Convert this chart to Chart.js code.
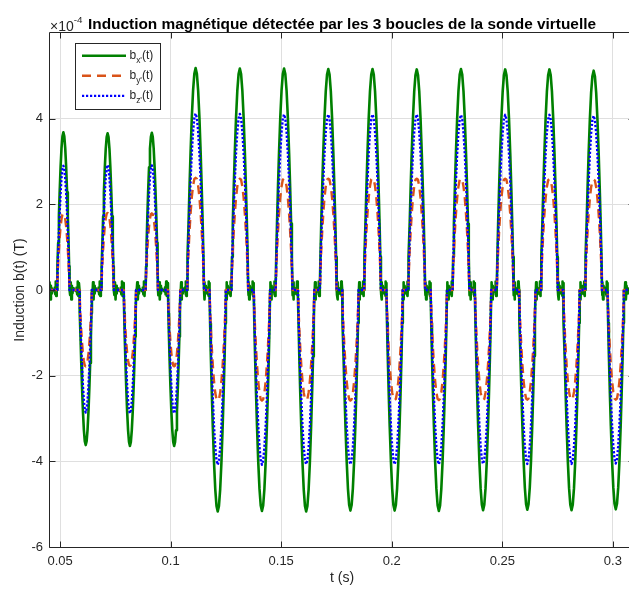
<!DOCTYPE html>
<html>
<head>
<meta charset="utf-8">
<title>Induction magnétique</title>
<script src="https://cdn.jsdelivr.net/npm/chart.js@4.4.1/dist/chart.umd.min.js"></script>
<style>
  html, body { margin: 0; padding: 0; background: #fff; overflow: hidden; }
  #wrap { position: relative; width: 640px; height: 590px; }
</style>
</head>
<body>
<div id="wrap"><canvas id="chart"></canvas></div>
<script>
// valeurs en unités de 1e-4 T
const tRange = [0.045, 0.31];
const yRange = [-6, 6];
const xTicks = [0.05, 0.1, 0.15, 0.2, 0.25, 0.3];
const yTicks = [-6, -4, -2, 0, 2, 4];
const seriesLabels = ["b_{x'}(t)", "b_{y'}(t)", "b_{z'}(t)"];

// centres des alternances (s) et demi-largeurs (s)
const posCenters = [0.0515, 0.0715, 0.0915, 0.1113, 0.1313, 0.1513, 0.1713, 0.1913, 0.2113, 0.2313, 0.2513, 0.2713, 0.2913];
const negCenters = [0.0616, 0.0816, 0.1016, 0.1213, 0.1413, 0.1613, 0.1813, 0.2013, 0.2213, 0.2413, 0.2613, 0.2813, 0.3013];
const posHalfWidth = [0.0028, 0.0028, 0.0028, 0.0038, 0.0038, 0.0038, 0.0038, 0.0038, 0.0038, 0.0038, 0.0038, 0.0038, 0.0038];
const negHalfWidth = [0.0028, 0.0028, 0.0028, 0.0037, 0.0037, 0.0037, 0.0037, 0.0037, 0.0037, 0.0037, 0.0037, 0.0037, 0.0037];

// crêtes
const bxPos = [3.68, 3.66, 3.67, 5.18, 5.17, 5.17, 5.16, 5.16, 5.15, 5.16, 5.15, 5.15, 5.12];
const bxNeg = [-3.62, -3.64, -3.64, -5.17, -5.16, -5.17, -5.15, -5.15, -5.16, -5.14, -5.13, -5.14, -5.12];
const byPos = [1.78, 1.8, 1.79, 2.62, 2.6, 2.6, 2.6, 2.61, 2.6, 2.6, 2.6, 2.59, 2.58];
const byNeg = [-1.78, -1.77, -1.78, -2.58, -2.58, -2.57, -2.58, -2.57, -2.57, -2.57, -2.56, -2.56, -2.56];
const bzPos = [2.9, 2.92, 2.91, 4.12, 4.11, 4.1, 4.1, 4.1, 4.1, 4.09, 4.09, 4.09, 4.07];
const bzNeg = [-2.86, -2.88, -2.88, -4.08, -4.08, -4.07, -4.07, -4.07, -4.07, -4.06, -4.06, -4.06, -4.05];

// forme d'une alternance (position relative, fraction de la crête)
const lobeU = [-1, -0.93, -0.84, -0.72, -0.6, -0.45, -0.3, -0.15, 0, 0.15, 0.3, 0.45, 0.6, 0.72, 0.84, 0.93, 1];
const shapeBx = [0, 0.15, 0.3, 0.47, 0.62, 0.78, 0.9, 0.975, 1, 0.975, 0.9, 0.78, 0.62, 0.47, 0.3, 0.15, 0];
const shapeBy = [0, 0.18, 0.35, 0.53, 0.68, 0.83, 0.93, 0.99, 1, 0.99, 0.93, 0.83, 0.68, 0.53, 0.35, 0.18, 0];
const shapeBz = [0, 0.15, 0.3, 0.47, 0.62, 0.78, 0.9, 0.975, 1, 0.975, 0.9, 0.78, 0.62, 0.47, 0.3, 0.15, 0];
// bruit de b_x entre deux alternances
const bxGapNoise = [0, -0.12, 0.18, -0.22, 0.1, -0.08, 0.04, 0, 0, 0, 0, -0.03, 0.06, -0.1, 0.2, -0.14, 0.16, 0];

const axisColor = 'rgb(38,38,38)';
const gridColor = '#dfdfdf';
const fontFamily = "'Liberation Sans', Arial, Helvetica, sans-serif";

function buildSeries(posPeaks, negPeaks, shape, gapNoise) {
    const lobes = [];
    posCenters.forEach(function(c, i) { lobes.push({ c: c, hw: posHalfWidth[i], peak: posPeaks[i] }); });
    negCenters.forEach(function(c, i) { lobes.push({ c: c, hw: negHalfWidth[i], peak: negPeaks[i] }); });
    lobes.sort(function(a, b) { return a.c - b.c; });

    const pts = [{ x: tRange[0], y: 0 }];
    let from = tRange[0];
    function gap(to) {
        if (!gapNoise) return;
        gapNoise.forEach(function(v, k) {
            pts.push({ x: from + (to - from) * k / (gapNoise.length - 1), y: v });
        });
    }
    lobes.forEach(function(l) {
        gap(l.c - l.hw);
        lobeU.forEach(function(u, k) { pts.push({ x: l.c + u * l.hw, y: l.peak * shape[k] }); });
        from = l.c + l.hw;
    });
    gap(tRange[1]);
    pts.push({ x: tRange[1], y: 0 });
    return pts;
}

// texte avec indices / exposants façon TeX
function drawTex(ctx, str, x, y, size, color) {
    const parts = [];
    const re = /([_^])\{([^}]*)\}/g;
    let last = 0, m;
    while ((m = re.exec(str))) {
        if (m.index > last) parts.push({ t: str.slice(last, m.index), s: size, dy: 0 });
        parts.push({ t: m[2], s: size * 0.7, dy: m[1] === '_' ? size * 0.3 : -size * 0.55 });
        last = re.lastIndex;
    }
    if (last < str.length) parts.push({ t: str.slice(last), s: size, dy: 0 });
    ctx.fillStyle = color;
    ctx.textAlign = 'left';
    ctx.textBaseline = 'alphabetic';
    let cx = x;
    parts.forEach(function(p) {
        ctx.font = p.s + 'px ' + fontFamily;
        ctx.fillText(p.t, cx, y + p.dy);
        cx += ctx.measureText(p.t).width;
    });
}

const matlabFrame = {
    id: 'matlabFrame',
    afterDatasetsDraw(chart) {
        const { ctx, chartArea: a, scales: { x, y } } = chart;
        const L = Math.floor(a.left) + 0.5, R = Math.floor(a.right) - 0.5;
        const T = Math.floor(a.top) - 0.5, B = Math.floor(a.bottom) + 0.5;
        const tick = 6;
        ctx.save();
        ctx.strokeStyle = axisColor;
        ctx.lineWidth = 1;
        ctx.setLineDash([]);
        ctx.beginPath();
        ctx.rect(L, T, R - L, B - T);
        xTicks.forEach(function(v) {
            const px = Math.round(x.getPixelForValue(v)) + 0.5;
            ctx.moveTo(px, B); ctx.lineTo(px, B - tick);
            ctx.moveTo(px, T); ctx.lineTo(px, T + tick);
        });
        yTicks.forEach(function(v) {
            const py = Math.round(y.getPixelForValue(v)) + 0.5;
            ctx.moveTo(L, py); ctx.lineTo(L + tick, py);
            ctx.moveTo(R, py); ctx.lineTo(R - tick, py);
        });
        ctx.stroke();
        ctx.restore();
    },
    afterDraw(chart) {
        const { ctx, chartArea: a } = chart;
        ctx.save();
        // titre
        ctx.font = 'bold 15.4px ' + fontFamily;
        ctx.fillStyle = '#000';
        ctx.textAlign = 'center';
        ctx.textBaseline = 'alphabetic';
        ctx.fillText('Induction magnétique détectée par les 3 boucles de la sonde virtuelle', (a.left + a.right) / 2, 29);
        // exposant de l'axe y
        drawTex(ctx, '\u00d710^{-4}', 50, 31, 14, axisColor);

        // légende
        const bx = 75.5, by = 43.5, bw = 85, bh = 66;
        ctx.fillStyle = '#fff';
        ctx.fillRect(bx, by, bw, bh);
        ctx.strokeStyle = axisColor;
        ctx.lineWidth = 1;
        ctx.strokeRect(bx, by, bw, bh);
        chart.data.datasets.forEach(function(ds, i) {
            const ly = 55.7 + i * 20.1;
            ctx.save();
            ctx.strokeStyle = ds.borderColor;
            ctx.lineWidth = ds.borderWidth;
            ctx.setLineDash(ds.borderDash || []);
            ctx.beginPath();
            ctx.moveTo(82, ly);
            ctx.lineTo(126, ly);
            ctx.stroke();
            ctx.restore();
            drawTex(ctx, ds.label, 129.5, ly + 3.5, 12, axisColor);
        });
        ctx.restore();
    }
};

new Chart(document.getElementById('chart'), {
    type: 'line',
    data: {
        datasets: [
            { label: seriesLabels[0], data: buildSeries(bxPos, bxNeg, shapeBx, bxGapNoise), borderColor: '#008000', borderWidth: 2.6, order: 3 },
            { label: seriesLabels[1], data: buildSeries(byPos, byNeg, shapeBy, null), borderColor: 'rgb(217,83,25)', borderWidth: 2.4, borderDash: [9, 6], order: 2 },
            { label: seriesLabels[2], data: buildSeries(bzPos, bzNeg, shapeBz, null), borderColor: '#0000ff', borderWidth: 2.4, borderDash: [2.2, 1.8], order: 1 },
        ],
    },
    options: {
        responsive: true,
        maintainAspectRatio: false,
        animation: false,
        events: [],
        devicePixelRatio: 1,
        layout: { padding: { left: 0, right: 5, top: 33, bottom: 0 } },
        elements: {
            point: { radius: 0 },
            line: { tension: 0, borderJoinStyle: 'round', borderCapStyle: 'butt', fill: false },
        },
        plugins: { legend: { display: false }, tooltip: { enabled: false } },
        scales: {
            x: {
                type: 'linear',
                min: tRange[0],
                max: tRange[1],
                afterBuildTicks: function(s) { s.ticks = xTicks.map(function(v) { return { value: v }; }); },
                afterFit: function(s) { s.height = 43; },
                grid: { color: gridColor, lineWidth: 1, drawTicks: false },
                border: { display: false },
                ticks: {
                    padding: 7, maxRotation: 0, autoSkip: false,
                    font: { size: 13, family: fontFamily }, color: axisColor,
                    callback: function(v) { return String(v); },
                },
                title: { display: true, text: 't (s)', font: { size: 14, family: fontFamily }, color: axisColor, padding: { top: 0, bottom: 3.6 } },
            },
            y: {
                type: 'linear',
                min: yRange[0],
                max: yRange[1],
                afterBuildTicks: function(s) { s.ticks = yTicks.map(function(v) { return { value: v }; }); },
                afterFit: function(s) { s.width = 49; },
                grid: { color: gridColor, lineWidth: 1, drawTicks: false },
                border: { display: false },
                ticks: {
                    padding: 6,
                    font: { size: 13, family: fontFamily }, color: axisColor,
                    callback: function(v) { return String(v); },
                },
                title: { display: true, text: 'Induction b(t) (T)', font: { size: 14, family: fontFamily }, color: axisColor, padding: { top: 11.6, bottom: 0 } },
            },
        },
    },
    plugins: [matlabFrame],
});
</script>
</body>
</html>
